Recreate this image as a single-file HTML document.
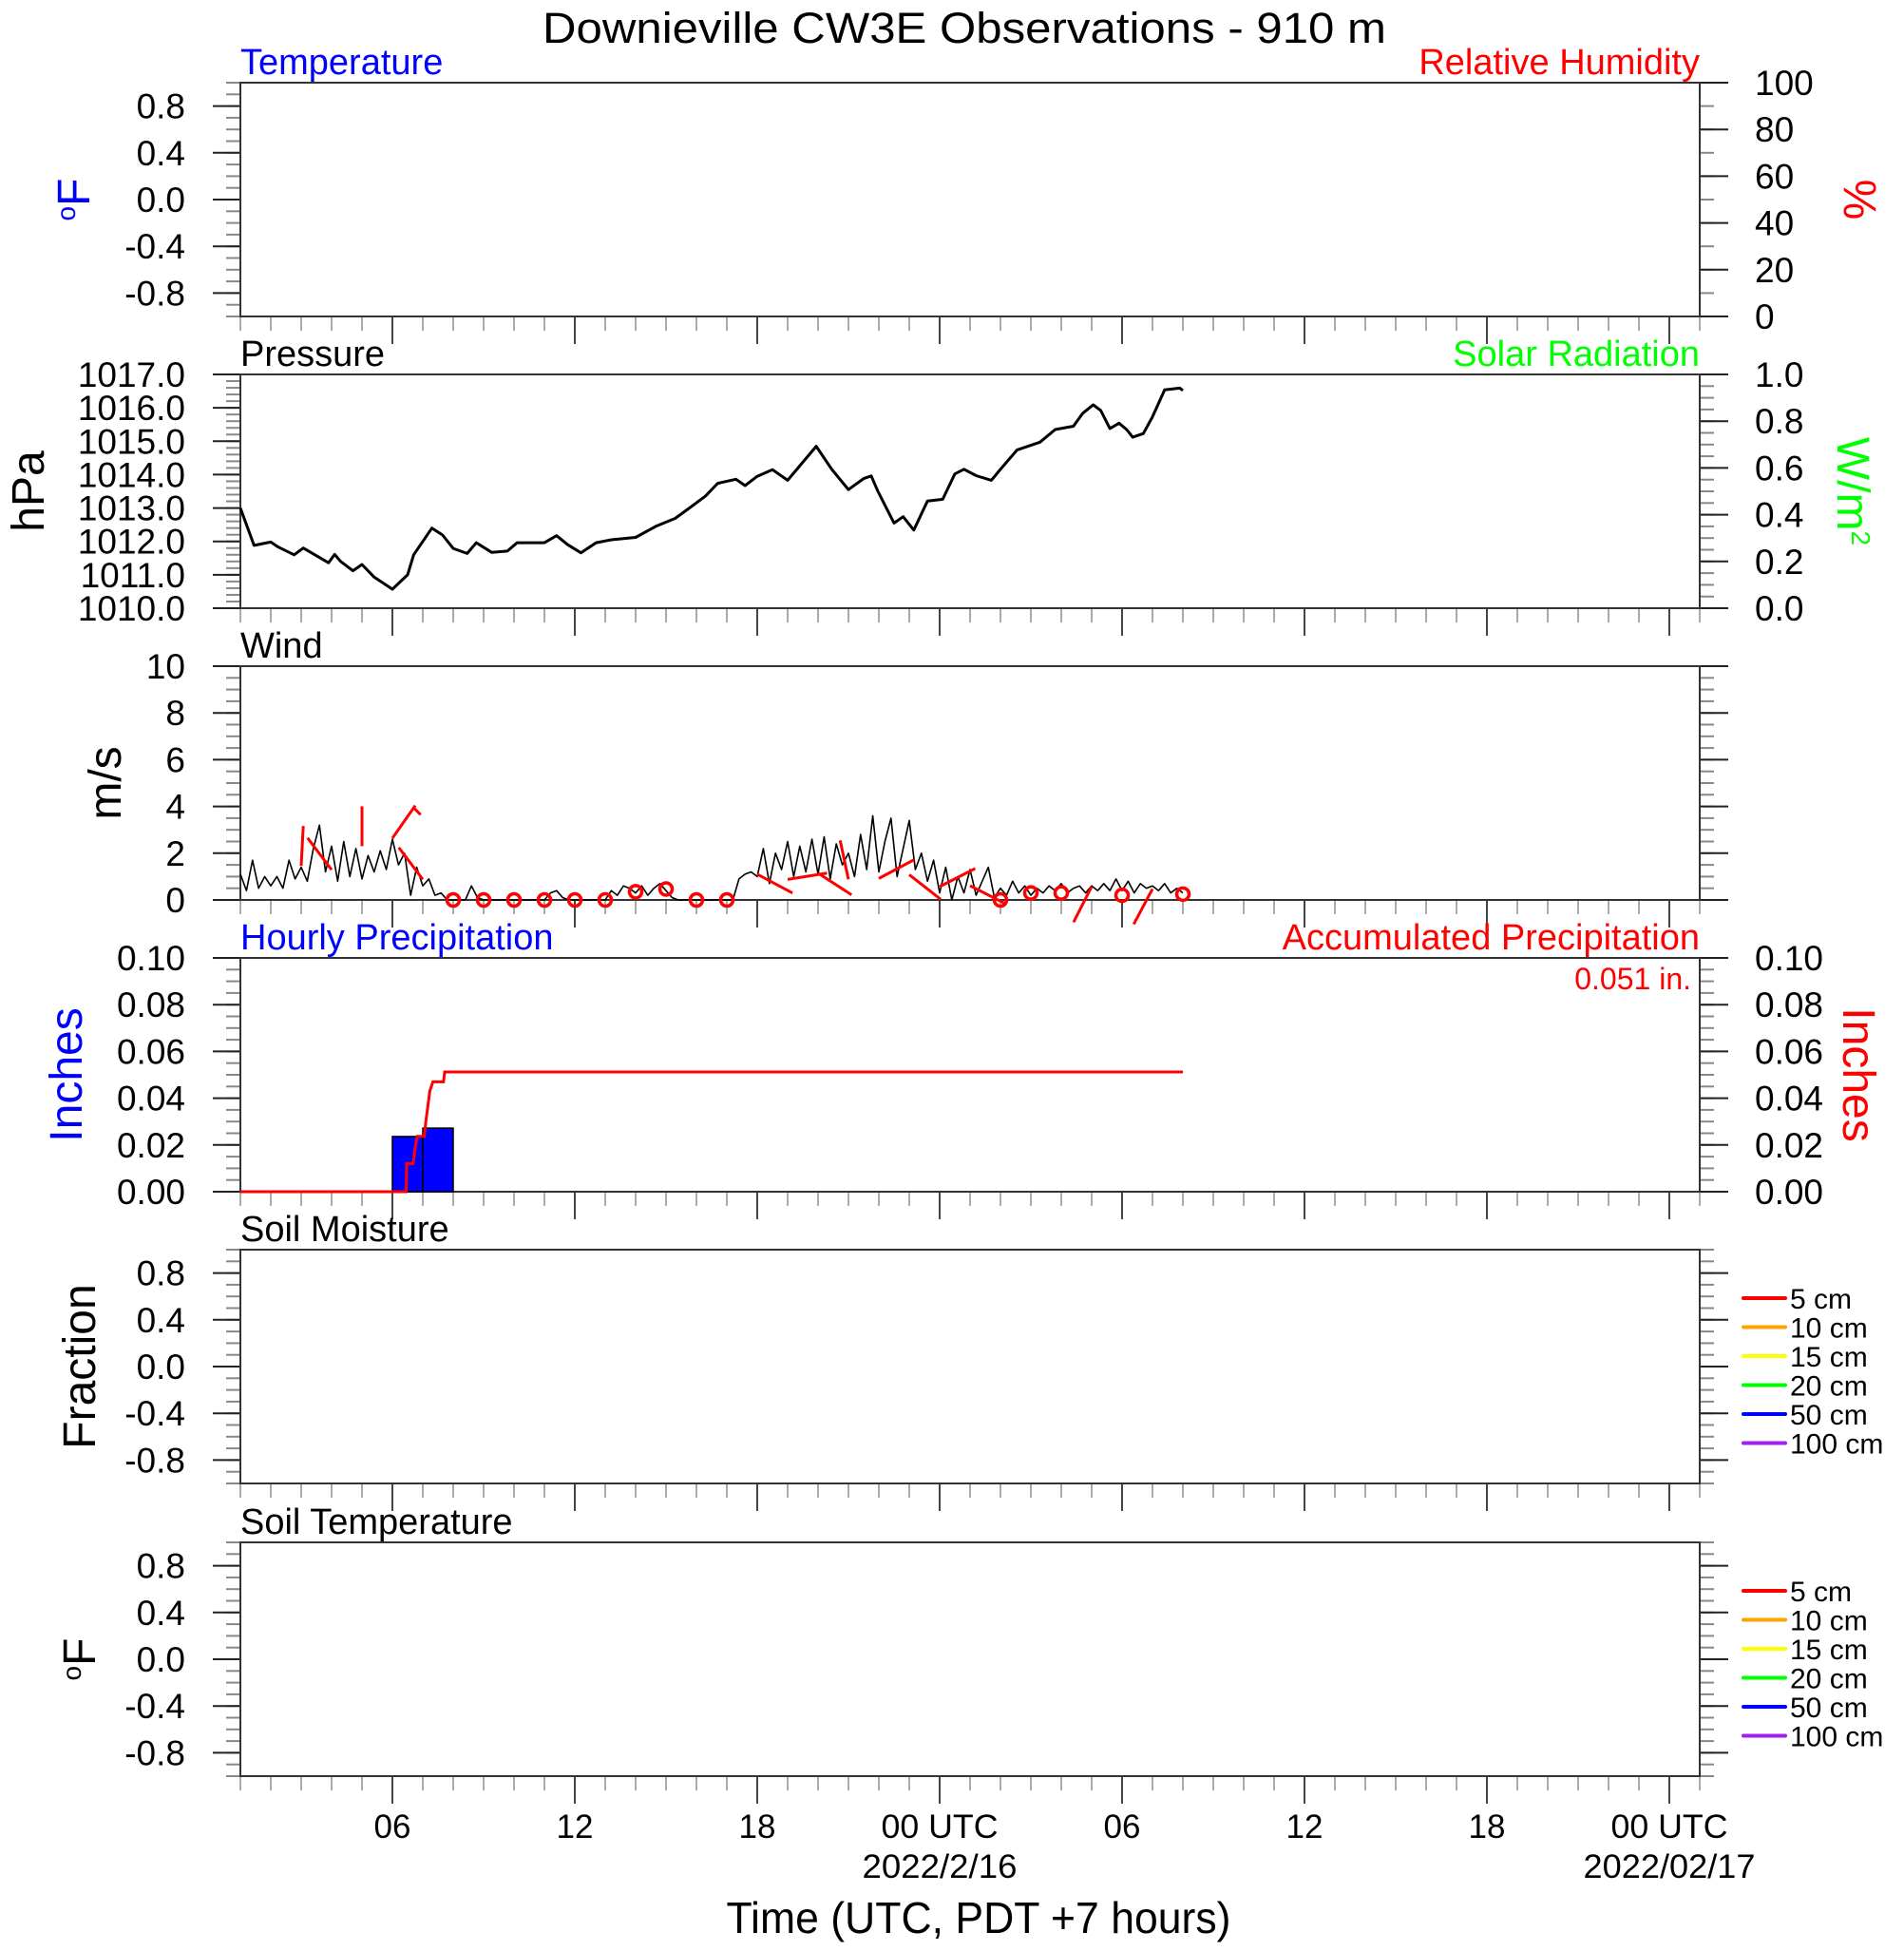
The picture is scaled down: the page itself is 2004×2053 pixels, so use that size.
<!DOCTYPE html>
<html><head><meta charset="utf-8"><title>Downieville CW3E Observations</title>
<style>
html,body{margin:0;padding:0;background:#fff;}
svg{display:block;font-family:"Liberation Sans",Arial,sans-serif;}
</style></head>
<body>
<svg id="chart" xmlns="http://www.w3.org/2000/svg" width="2004" height="2053" viewBox="0 0 2004 2053">
<rect x="0" y="0" width="2004" height="2053" fill="#fff"/>
<text x="1015" y="45" font-size="45" text-anchor="middle" textLength="888" lengthAdjust="spacingAndGlyphs">Downieville CW3E Observations - 910 m</text>
<g id="layer"></g>
</svg>
<script>
// ---- data ----
const pressureHours = [1,1.45,2.0,2.25,2.77,3.07,3.9,4.1,4.3,4.7,5.0,5.4,6.0,6.5,6.7,7.3,7.65,8.0,8.46,8.76,9.27,9.78,10.1,11.0,11.4,11.77,12.2,12.7,13.2,14.0,14.66,15.3,15.8,16.3,16.7,17.3,17.6,18.0,18.5,19.0,19.94,20.45,21.0,21.5,21.75,21.97,22.5,22.8,23.15,23.6,24.1,24.5,24.8,25.2,25.7,26.0,26.55,27.3,27.8,28.4,28.7,29.05,29.3,29.6,29.9,30.15,30.35,30.7,31.0,31.4,31.9,32.0];
const pressureValues = [1013.0,1011.88,1011.98,1011.83,1011.6,1011.8,1011.36,1011.61,1011.4,1011.12,1011.31,1010.93,1010.57,1011.0,1011.6,1012.4,1012.19,1011.79,1011.64,1011.96,1011.67,1011.71,1011.96,1011.96,1012.17,1011.9,1011.66,1011.96,1012.05,1012.12,1012.45,1012.69,1013.02,1013.36,1013.74,1013.86,1013.67,1013.95,1014.15,1013.83,1014.85,1014.16,1013.55,1013.88,1013.96,1013.5,1012.55,1012.74,1012.34,1013.21,1013.26,1014.02,1014.16,1013.97,1013.83,1014.16,1014.74,1014.97,1015.35,1015.45,1015.83,1016.09,1015.92,1015.38,1015.54,1015.35,1015.12,1015.23,1015.73,1016.54,1016.59,1016.52];
const windStartHour = 1;
const windStep = 0.2;
const windSpeed = [
1.1,0.4,1.7,0.5,1.0, 0.6,1.0,0.5,1.7,0.9, 1.4,0.8,2.2,3.2,1.2, 2.3,0.8,2.5,1.0,2.2,
0.9,1.9,1.2,2.1,1.3, 2.6,1.5,2.0,0.2,1.4, 0.6,0.9,0.2,0.3,0.0, 0,0,0,0.6,0.1,
0,0,0,0,0, 0,0,0,0,0, 0,0.3,0.4,0.1,0, 0,0,0,0,0,
0,0.4,0.2,0.6,0.5, 0.3,0.6,0.2,0.5,0.7, 0.4,0.1,0,0,0, 0,0,0,0,0,
0,0,0.9,1.1,1.2, 1.0,2.2,0.7,2.0,1.3, 2.5,1.0,2.3,1.2,2.6, 1.1,2.7,0.9,2.4,1.5,
2.0,1.0,2.8,1.3,3.6, 1.2,2.5,3.5,1.0,2.2, 3.4,1.3,2.0,0.8,1.7, 0.3,1.4,0.0,1.0,0.3,
1.3,0.2,0.8,1.4,0.1, 0.5,0.2,0.8,0.3,0.6, 0.2,0.5,0.3,0.6,0.4, 0.7,0.3,0.5,0.6,0.3,
0.6,0.4,0.7,0.4,0.9, 0.4,0.8,0.3,0.7,0.5, 0.6,0.4,0.7,0.3,0.5, 0.3];
const calmHours = [8,9,10,11,12,13,14,15,16,17,26,27,28,30,32];
const calmSpeed = [0,0,0,0,0,0,0.35,0.47,0,0,0,0.3,0.3,0.2,0.25];
const barbHours = [3,4,5,6,7,18,19,20,21,22,23,24,25,29,31];
const barbSpeed = [1.46,1.29,2.3,2.64,0.88,1.1,0.88,1.15,0.88,0.92,1.08,0.57,0.61,0.57,0.47];
const barbDir = [3,323,0,35,323,118,81,123,348,62,128,63,117,207,208];
const precipStart = [6,7];
const precipValues = [0.0236,0.0272];
const accumHours = [1,6.45,6.47,6.68,6.75,6.82,7.05,7.1,7.15,7.23,7.33,7.68,7.72,32];
const accumValues = [0,0,0.012,0.012,0.019,0.0237,0.0237,0.03,0.035,0.043,0.047,0.047,0.0512,0.0512];
const soilDepths = ["5 cm","10 cm","15 cm","20 cm","50 cm","100 cm"];
const soilColors = ["#ff0000","#ffa500","#ffff00","#00ff00","#0000ff","#a020f0"];
const xTickLabels = ["06","12","18","00 UTC","06","12","18","00 UTC"];
const xTickHours = [6,12,18,24,30,36,42,48];

// ---- layout ----
const NS="http://www.w3.org/2000/svg";
const layer=document.getElementById('layer');
const X0=253, X1=1789, H0=1, H1=49, PH=246;
const tops=[87,394,701,1008,1315,1623];
function xs(h){return X0+(h-H0)*(X1-X0)/(H1-H0);}
function ysFn(top,min,max){return v=>top+PH-(v-min)/(max-min)*PH;}
function mk(tag,attrs,parent){const e=document.createElementNS(NS,tag);for(const k in attrs)e.setAttribute(k,attrs[k]);(parent||layer).appendChild(e);return e;}
function txt(s,attrs,parent){const e=mk('text',attrs,parent);e.textContent=s;return e;}

const panels=[
 {name:'temperature',min:-1,max:1,maj:0.4,majStart:-0.8,minor:0.1,fmt:v=>v.toFixed(1),title:'Temperature',tcol:'#0000ff',rtitle:'Relative Humidity',rcol:'#ff0000',
  right:{min:0,max:100,maj:20,minor:10,fmt:v=>v.toFixed(0),labels:true}},
 {name:'pressure',min:1010,max:1017,maj:1,majStart:1010,minor:0.2,fmt:v=>v.toFixed(1),title:'Pressure',tcol:'#000',rtitle:'Solar Radiation',rcol:'#00ff00',
  right:{min:0,max:1,maj:0.2,minor:0.05,fmt:v=>v.toFixed(1),labels:true}},
 {name:'wind',min:0,max:10,maj:2,majStart:0,minor:0.5,fmt:v=>v.toFixed(0),title:'Wind',tcol:'#000',
  right:{min:0,max:10,maj:2,minor:0.5,labels:false}},
 {name:'precipitation',min:0,max:0.1,maj:0.02,majStart:0,minor:0.005,fmt:v=>v.toFixed(2),title:'Hourly Precipitation',tcol:'#0000ff',rtitle:'Accumulated Precipitation',rcol:'#ff0000',
  right:{min:0,max:0.1,maj:0.02,minor:0.005,fmt:v=>v.toFixed(2),labels:true}},
 {name:'soil-moisture',min:-1,max:1,maj:0.4,majStart:-0.8,minor:0.1,fmt:v=>v.toFixed(1),title:'Soil Moisture',tcol:'#000',
  right:{min:-1,max:1,maj:0.4,majStart:-0.8,minor:0.1,labels:false}},
 {name:'soil-temperature',min:-1,max:1,maj:0.4,majStart:-0.8,minor:0.1,fmt:v=>v.toFixed(1),title:'Soil Temperature',tcol:'#000',
  right:{min:-1,max:1,maj:0.4,majStart:-0.8,minor:0.1,labels:false}}
];

panels.forEach((p,i)=>{
  const top=tops[i], bot=top+PH;
  const g=mk('g',{});
  
  
  const y=ysFn(top,p.min,p.max);
  // minor y ticks left & right
  const nMin=Math.round((p.max-p.min)/p.minor);
  for(let k=0;k<=nMin;k++){
    const v=p.min+k*p.minor, yy=y(v);
    const t=mk('line',{x1:X0-15,x2:X0,y1:yy,y2:yy,stroke:'#888','stroke-width':2},g);
    
    
  }
  const r=p.right, yr=ysFn(top,r.min,r.max);
  const nMinR=Math.round((r.max-r.min)/r.minor);
  for(let k=0;k<=nMinR;k++){
    const yy=yr(r.min+k*r.minor);
    const t=mk('line',{x1:X1,x2:X1+15,y1:yy,y2:yy,stroke:'#888','stroke-width':2},g);
    
    
  }
  // major left ticks + labels
  for(let v=p.majStart; v<=p.max+1e-9; v+=p.maj){
    const yy=y(v);
    const t=mk('line',{x1:X0-29,x2:X0,y1:yy,y2:yy,stroke:'#222','stroke-width':2},g);
    
    
    const l=txt(p.fmt(v),{x:X0-58,y:yy+13,'font-size':37,'text-anchor':'end'},g);
    
    
  }
  const rs=(r.majStart!==undefined)?r.majStart:r.min;
  for(let v=rs; v<=r.max+1e-9; v+=r.maj){
    const yy=yr(v);
    const t=mk('line',{x1:X1,x2:X1+30,y1:yy,y2:yy,stroke:'#222','stroke-width':2},g);
    
    
    if(r.labels){
      const l=txt(r.fmt(v),{x:1847,y:yy+13,'font-size':37,'text-anchor':'start'},g);
      
      
    }
  }
  // x ticks
  for(let h=H0;h<=H1;h++){
    const major=(h%6===0);
    const t=mk('line',{x1:xs(h),x2:xs(h),y1:bot,y2:bot+(major?29:15),stroke:major?'#444':'#aaa','stroke-width':2},g);
    
    
  }
  // frame
  const f=mk('rect',{x:X0,y:top,width:X1-X0,height:PH,fill:'none',stroke:'#333','stroke-width':2},g);
  
  
  const tt=txt(p.title,{x:X0,y:top-9,'font-size':38,fill:p.tcol},g);
  
  
  if(p.rtitle){
    const rt=txt(p.rtitle,{x:X1,y:top-9,'font-size':38,fill:p.rcol,'text-anchor':'end'},g);
    
    
  }
  p.y=y; p.yr=yr;
});

// axis titles
function vlabel(s,x,y,rot,col,name,sup){
  const e=mk('text',{x:0,y:0,'font-size':48,fill:col,'text-anchor':'middle',transform:`translate(${x},${y}) rotate(${rot})`});
  
  
  if(sup==='pre'){
    const a=mk('tspan',{'font-size':28,'baseline-shift':'super'},e);a.textContent='o';
    const b=mk('tspan',{},e);b.textContent=s;
  } else if(sup){
    const a=mk('tspan',{},e);a.textContent=s;
    const b=mk('tspan',{'font-size':28,'baseline-shift':'super'},e);b.textContent=sup;
  } else e.textContent=s;
  return e;
}
vlabel('F',94,210,-90,'#0000ff','temperature-axis-title','pre');
vlabel('hPa',46,517,-90,'#000','pressure-axis-title');
vlabel('m/s',127,824,-90,'#000','wind-axis-title');
vlabel('Inches',86,1131,-90,'#0000ff','precip-axis-title');
vlabel('Fraction',100,1438,-90,'#000','soil-moisture-axis-title');
vlabel('F',100,1746,-90,'#000','soil-temperature-axis-title','pre');
vlabel('%',1941,210,90,'#ff0000','humidity-axis-title');
vlabel('W/m',1934,517,90,'#00ff00','solar-axis-title','2');
vlabel('Inches',1940,1131,90,'#ff0000','accum-precip-axis-title');

// pressure line
(function(){
  const y=panels[1].y;
  const d=pressureHours.map((h,i)=>(i?'L':'M')+xs(h).toFixed(1)+','+y(pressureValues[i]).toFixed(1)).join('');
  const e=mk('path',{d:d,fill:'none',stroke:'#000','stroke-width':3,'stroke-linejoin':'round'});
  
  
})();

// wind
(function(){
  const y=panels[2].y;
  const d=windSpeed.map((v,i)=>(i?'L':'M')+xs(windStartHour+i*windStep).toFixed(1)+','+y(v).toFixed(1)).join('');
  const e=mk('path',{d:d,fill:'none',stroke:'#000','stroke-width':1.6,'stroke-linejoin':'round'});
  
  
  barbHours.forEach((h,i)=>{
    const bx=xs(h), by=y(barbSpeed[i]), a=barbDir[i]*Math.PI/180, L=42;
    const ex=bx+L*Math.sin(a), ey=by-L*Math.cos(a);
    const b=mk('line',{x1:bx,y1:by,x2:ex,y2:ey,stroke:'#ff0000','stroke-width':3});
    
    
    if(barbSpeed[i]>2.5){
      const px=ex-3*Math.sin(a), py=ey+3*Math.cos(a);
      const f=mk('line',{x1:px,y1:py,x2:px+9*Math.cos(a),y2:py+9*Math.sin(a)+2,stroke:'#ff0000','stroke-width':3});
      
      
    }
  });
  calmHours.forEach((h,i)=>{
    const c=mk('circle',{cx:xs(h),cy:y(calmSpeed[i]),r:6.5,fill:'none',stroke:'#ff0000','stroke-width':3.5});
    
    
  });
})();

// precipitation
(function(){
  const y=panels[3].y, yr=panels[3].yr;
  precipStart.forEach((h,i)=>{
    const r=mk('rect',{x:xs(h),y:y(precipValues[i]),width:xs(h+1)-xs(h),height:y(0)-y(precipValues[i]),fill:'#0000ff',stroke:'#000','stroke-width':1.5});
    
    
  });
  const d=accumHours.map((h,i)=>(i?'L':'M')+xs(h).toFixed(1)+','+yr(accumValues[i]).toFixed(1)).join('');
  const e=mk('path',{d:d,fill:'none',stroke:'#ff0000','stroke-width':3});
  
  
  const t=txt(accumValues[accumValues.length-1].toFixed(3)+' in.',{x:1780,y:1041,'font-size':32,fill:'#ff0000','text-anchor':'end'});
  
  
})();

// soil legends
[1366,1674].forEach((y0,j)=>{
  soilDepths.forEach((s,i)=>{
    const yy=y0+i*30.5;
    const l=mk('line',{x1:1835,x2:1879,y1:yy,y2:yy,stroke:soilColors[i],'stroke-width':4,'stroke-linecap':'round'});
    
    
    const t=txt(s,{x:1884,y:yy+11,'font-size':30});
    
    
  });
});

// bottom labels
xTickHours.forEach((h,i)=>{
  const s=xTickLabels[i];
  const a={x:xs(h),y:1934,'font-size':35,'text-anchor':'middle'};
  if(s.length>2){a.textLength=123;a.lengthAdjust='spacingAndGlyphs';}
  const t=txt(s,a);
  
  
});
(function(){
  const d1=txt('2022/2/16',{x:xs(24),y:1976,'font-size':35,'text-anchor':'middle',textLength:163,lengthAdjust:'spacingAndGlyphs'});
  
  
  const d2=txt('2022/02/17',{x:xs(48),y:1976,'font-size':35,'text-anchor':'middle',textLength:181,lengthAdjust:'spacingAndGlyphs'});
  
  
  const tl=txt('Time (UTC, PDT +7 hours)',{x:1030,y:2034,'font-size':46,'text-anchor':'middle',textLength:531,lengthAdjust:'spacingAndGlyphs'});
  
  
})();
</script>
</body></html>
